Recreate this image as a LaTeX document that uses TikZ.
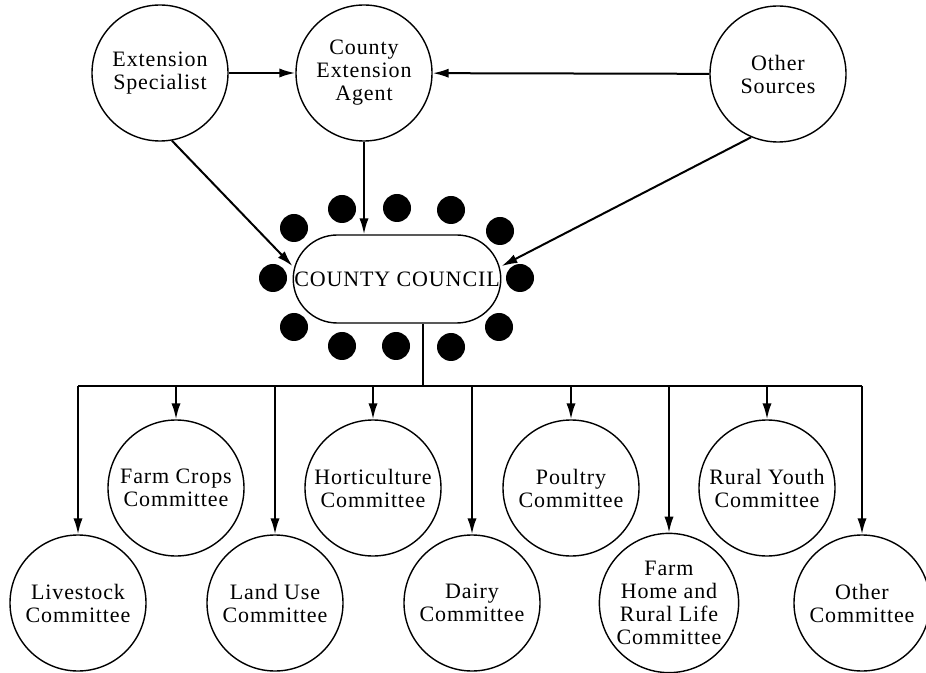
\documentclass[tikz,border=0pt]{standalone}
\usepackage{fontspec}
\setmainfont{Liberation Serif}[LetterSpace=4]
\usetikzlibrary{arrows.meta,positioning}
\tikzset{
	council chart/.style={
		x=0.5pt, y=-0.5pt, % coordinates are given in pixels of the page
		line width=0.8pt,
		font=\fontsize{11}{11.5}\selectfont,
		>={Latex[length=8pt,width=4.6pt]}
	},
	unit/.style={
		circle,
		draw,
		line width=0.7pt,
		minimum size=68pt,
		inner sep=1pt,
		align=center
	},
	council/.style={
		rectangle,
		rounded corners=22pt,
		draw,
		line width=0.7pt,
		minimum width=95pt,
		minimum height=44pt,
		inner sep=0.5pt,
		font=\fontsize{11}{12}\selectfont
	},
	member/.style={
		circle,
		fill,
		inner sep=0pt,
		minimum size=14pt
	},
	feed/.style={
		->,
		line width=1pt
	}
}

\begin{document}
\begin{tikzpicture}[council chart]
	\useasboundingbox (0,0) rectangle (926,673);
	% sources
	\node[unit] (spec) at (160,73) {Extension\\Specialist};
	\node[unit] (agent) at (364,73) {County\\Extension\\Agent};
	\node[unit] (other) at (778,74) {Other\\Sources};
	% council with its members
	\node[council] (cc) at (397,279) {COUNTY COUNCIL};
	\foreach \x/\y [count=\i] in {342/209,397/208,451/210,294/228,500/231,273/278,
		520/278,294/327,499/327,342/346,396/346,451/347}
		\node[member] (m\i) at (\x,\y) {};
	\draw[feed] (spec) -- (agent);
	\draw[feed] (other) -- (agent);
	\draw[feed] (spec.-80) -- (cc.173);
	\draw[feed] (agent.south) -- (agent.south |- cc.north);
	\draw[feed] (other.-113) -- (cc.7);
	% committees
	\node[unit] (stock) at (78,603) {Livestock\\Committee};
	\node[unit] (crops) at (176,488) {Farm Crops\\Committee};
	\node[unit] (land) at (275,603) {Land Use\\Committee};
	\node[unit] (hort) at (373,488) {Horticulture\\Committee};
	\node[unit] (dairy) at (472,603) {Dairy\\Committee};
	\node[unit] (poultry) at (571,488) {Poultry\\Committee};
	\node[unit] (home) at (669,603) {Farm\\Home and\\Rural Life\\Committee};
	\node[unit] (youth) at (767,488) {Rural Youth\\Committee};
	\node[unit] (rest) at (862,603) {Other\\Committee};
	\coordinate (bus) at (423,386);
	\draw[line width=1pt] (cc.south -| bus) -- (bus);
	\draw[line width=1pt] (stock.north |- bus) -- (rest.north |- bus);
	\foreach \c in {stock,crops,land,hort,dairy,poultry,home,youth,rest}
		\draw[feed] (\c.north |- bus) -- (\c.north);
\end{tikzpicture}
\end{document}
